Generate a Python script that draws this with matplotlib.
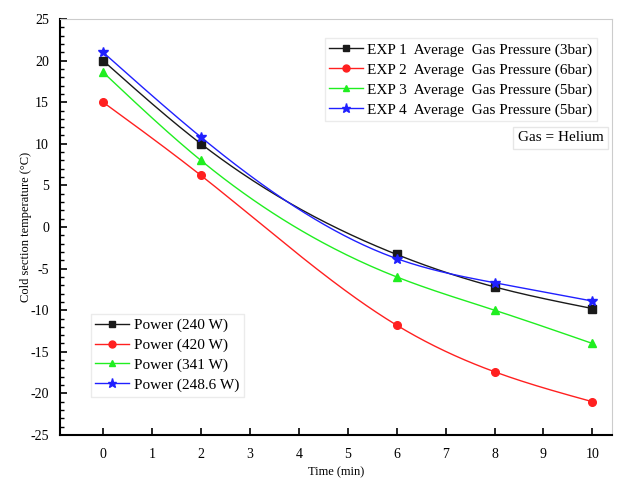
import numpy as np
import matplotlib
matplotlib.use('Agg')
import matplotlib.pyplot as plt
from matplotlib.ticker import MultipleLocator

plt.rcParams['font.family'] = ['Liberation Serif', 'DejaVu Serif']
plt.rcParams['axes.unicode_minus'] = False

time = [0, 2, 6, 8, 10]
exp1 = [20.0, 10.0, -3.3, -7.2, -9.8]
exp2 = [15.0, 6.2, -11.8, -17.4, -21.0]
exp3 = [18.6, 8.0, -6.0, -10.0, -14.0]
exp4 = [21.0, 10.8, -3.8, -6.7, -8.9]

labels_exp = ['EXP 1  Average  Gas Pressure (3bar)',
              'EXP 2  Average  Gas Pressure (6bar)',
              'EXP 3  Average  Gas Pressure (5bar)',
              'EXP 4  Average  Gas Pressure (5bar)']
labels_power = ['Power (240 W)', 'Power (420 W)', 'Power (341 W)', 'Power (248.6 W)']
colors = ['#1a1a1a', '#ff2020', '#20ee20', '#2020ff']
markers = ['s', 'o', '^', '*']


def spline(x, y, n=200):
    # natural cubic spline through the points
    x = np.asarray(x, float)
    y = np.asarray(y, float)
    k = len(x)
    h = np.diff(x)
    A = np.zeros((k, k))
    b = np.zeros(k)
    A[0, 0] = A[-1, -1] = 1
    for i in range(1, k - 1):
        A[i, i - 1] = h[i - 1]
        A[i, i] = 2 * (h[i - 1] + h[i])
        A[i, i + 1] = h[i]
        b[i] = 6 * ((y[i + 1] - y[i]) / h[i] - (y[i] - y[i - 1]) / h[i - 1])
    M = np.linalg.solve(A, b)
    xs = np.linspace(x[0], x[-1], n)
    ys = np.empty_like(xs)
    for j, xv in enumerate(xs):
        i = min(np.searchsorted(x, xv, side='right') - 1, k - 2)
        t1 = x[i + 1] - xv
        t0 = xv - x[i]
        ys[j] = (M[i] * t1 ** 3 + M[i + 1] * t0 ** 3) / (6 * h[i]) \
            + (y[i] / h[i] - M[i] * h[i] / 6) * t1 \
            + (y[i + 1] / h[i] - M[i + 1] * h[i] / 6) * t0
    return xs, ys


fig = plt.figure(figsize=(6.37, 4.79), dpi=100)
ax = fig.add_axes([60 / 637, 1 - 435 / 479, 552 / 637, 416 / 479])

handles = []
for ys, c, m in zip([exp1, exp2, exp3, exp4], colors, markers):
    sx, sy = spline(time, ys)
    ax.plot(sx, sy, color=c, lw=1.0)
    ms = 7 if m == '*' else 5.5
    ax.plot(time, ys, ls='none', marker=m, color=c, ms=ms)
    h, = ax.plot([], [], color=c, lw=1.0, marker=m, ms=ms - 0.5)
    handles.append(h)

ax.set_xlim(-0.88, 10.4)
ax.set_ylim(-25, 25)
ax.xaxis.set_major_locator(MultipleLocator(1))
ax.yaxis.set_major_locator(MultipleLocator(5))
ax.yaxis.set_minor_locator(MultipleLocator(1))
ax.tick_params(axis='both', direction='in', labelsize=10, width=1.2)
ax.tick_params(axis='y', which='major', length=5)
ax.tick_params(axis='y', which='minor', direction='in', length=3, width=1.0)
ax.tick_params(axis='x', length=5, pad=9)
ax.tick_params(axis='y', pad=8)

ax.spines['left'].set_linewidth(1.5)
ax.spines['bottom'].set_linewidth(1.5)
ax.spines['right'].set_color('#cccccc')
ax.spines['top'].set_color('#cccccc')
ax.spines['right'].set_linewidth(0.8)
ax.spines['top'].set_linewidth(0.8)

ax.set_xlabel('Time (min)', fontsize=9)
ax.set_ylabel('Cold section temperature (\u00b0C)', fontsize=9)
ax.yaxis.set_label_coords(-0.05, 0.5)

leg1 = ax.legend(handles, labels_exp, loc='upper right', bbox_to_anchor=(0.987, 0.972),
                 fontsize=11, frameon=True, fancybox=False, edgecolor='#e6e6e6',
                 handlelength=2.2, handletextpad=0.3, borderpad=0.3, labelspacing=0.4)
ax.add_artist(leg1)
ax.legend(handles, labels_power, loc='lower left', bbox_to_anchor=(0.042, 0.074),
          fontsize=11, frameon=True, fancybox=False, edgecolor='#e6e6e6',
          handlelength=2.2, handletextpad=0.3, borderpad=0.3, labelspacing=0.4)

ax.text(0.985, 0.714, 'Gas = Helium', transform=ax.transAxes, ha='right', va='center',
        fontsize=11, bbox=dict(boxstyle='square,pad=0.3', fc='white', ec='#e6e6e6'))

plt.savefig('out.png', dpi=100)
